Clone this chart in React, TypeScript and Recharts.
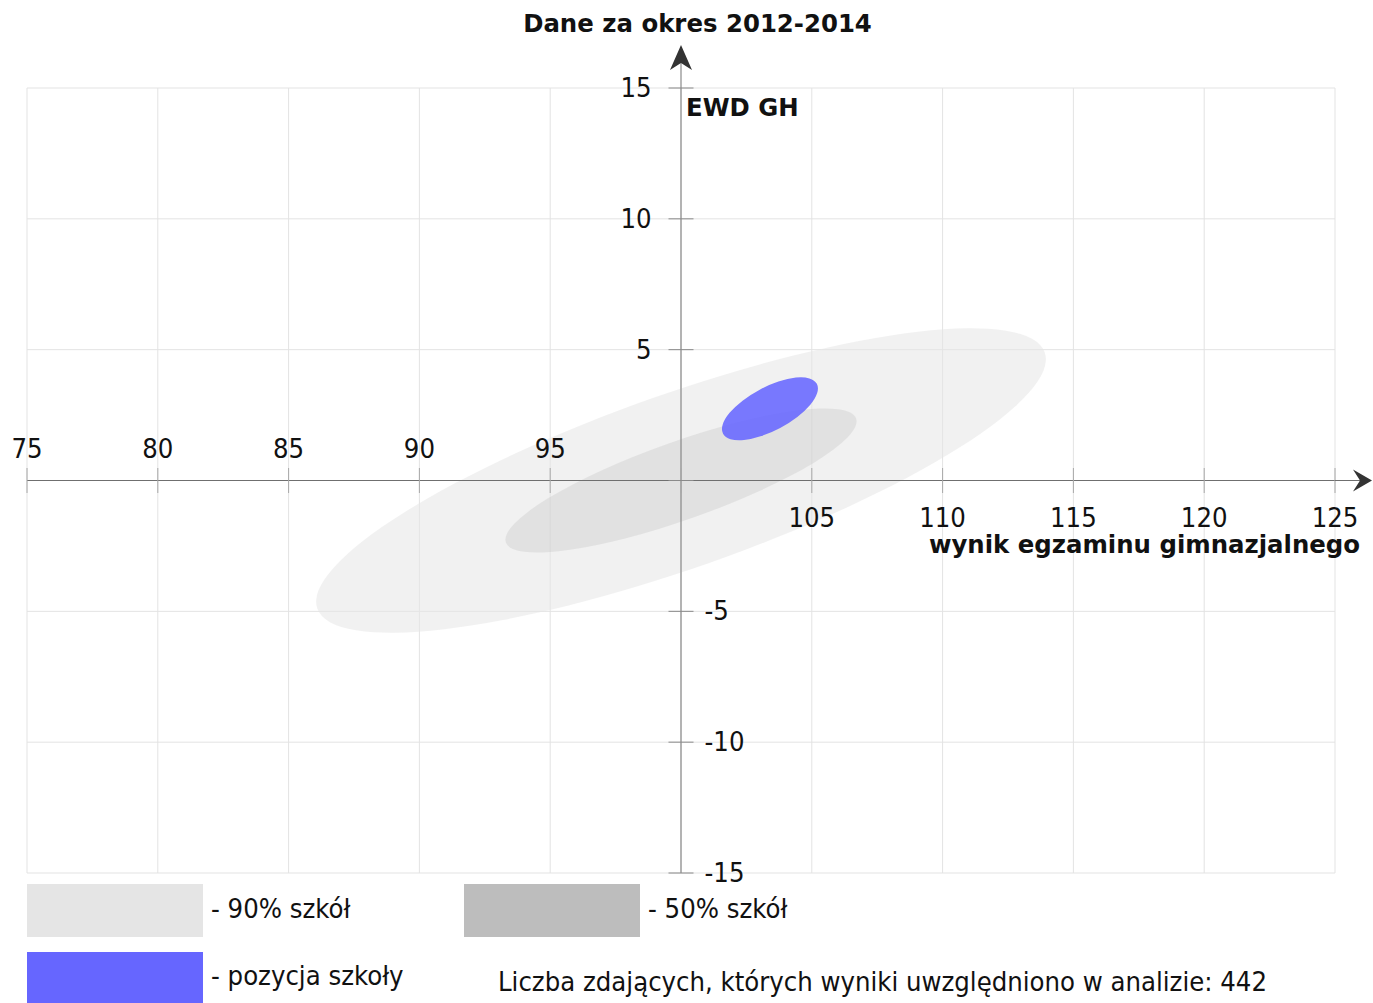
import React from 'react';
import {
  ComposedChart,
  XAxis,
  YAxis,
  CartesianGrid,
  ReferenceArea,
  ReferenceDot,
  ReferenceLine,
} from 'recharts';

// ---- data ----
const xDomain: [number, number] = [75, 125];
const yDomain: [number, number] = [-15, 15];
const xTicks = [75, 80, 85, 90, 95, 100, 105, 110, 115, 120, 125];
const yTicks = [-15, -10, -5, 0, 5, 10, 15];
const xTickLabels = ['75', '80', '85', '90', '95', '', '105', '110', '115', '120', '125'];
const yTickLabels = ['-15', '-10', '-5', '', '5', '10', '15'];

const ellipseNames = ['90% szkół', '50% szkół', 'pozycja szkoły'];
const ellipseCenterX = [100, 100, 103.4];
const ellipseCenterY = [0, 0, 2.74];
const ellipseSemiMajor = [14.74, 7.1, 2.03];
const ellipseSemiMinor = [3.33, 1.49, 0.83];
const ellipseAngleDeg = [19.4, 19.5, 28];

const title = 'Dane za okres 2012-2014';
const yAxisTitle = 'EWD GH';
const xAxisTitle = 'wynik egzaminu gimnazjalnego';
const countNote = 'Liczba zdających, których wyniki uwzględniono w analizie: 442';

// ---- styles ----
const W = 1373;
const H = 1003;
const ellipseFill = ['#e5e5e5', '#bdbdbd', '#6666ff'];
const ellipseOpacity = [0.55, 0.31, 0.88];
const REG = "'DejaVu Sans Condensed', 'DejaVu Sans', sans-serif";
const BOLD = "'DejaVu Sans', sans-serif";
const REG_SIZE = 27.2;
const BOLD_SIZE = 24.4;

const ellipses = ellipseNames.map((name, i) => ({
  name,
  cx: ellipseCenterX[i],
  cy: ellipseCenterY[i],
  a: ellipseSemiMajor[i],
  b: ellipseSemiMinor[i],
  angle: ellipseAngleDeg[i],
  fill: ellipseFill[i],
  opacity: ellipseOpacity[i],
}));

const makeEllipseShape = (angle: number, fill: string, opacity: number) => (p: any) => {
  const x = Number(p.x);
  const y = Number(p.y);
  const w = Math.abs(Number(p.width));
  const h = Math.abs(Number(p.height));
  const cx = x + w / 2;
  const cy = y + h / 2;
  return (
    <ellipse
      cx={cx}
      cy={cy}
      rx={w / 2}
      ry={h / 2}
      fill={fill}
      fillOpacity={opacity}
      stroke="none"
      transform={`rotate(${-angle} ${cx} ${cy})`}
    />
  );
};

const makeXTickShape = (label: string, value: number) => (p: any) => {
  const cx = p.cx;
  const cy = p.cy;
  const below = value > 100;
  return (
    <g>
      <line x1={cx} x2={cx} y1={cy - 12.5} y2={cy + 12.5} stroke="#a8a8a8" strokeWidth={1} />
      {label ? (
        <text
          x={cx}
          y={below ? cy + 46 : cy - 23}
          textAnchor="middle"
          fontFamily={REG}
          fontSize={REG_SIZE}
          fill="#111"
        >
          {label}
        </text>
      ) : null}
    </g>
  );
};

const makeYTickShape = (label: string, value: number) => (p: any) => {
  const cx = p.cx;
  const cy = p.cy;
  const right = value < 0;
  return (
    <g>
      <line x1={cx - 12.5} x2={cx + 12.5} y1={cy} y2={cy} stroke="#8a8a8a" strokeWidth={1} />
      {label ? (
        <text
          x={right ? cx + 23.5 : cx - 29.5}
          y={cy + 9}
          textAnchor={right ? 'start' : 'end'}
          fontFamily={REG}
          fontSize={REG_SIZE}
          fill="#111"
        >
          {label}
        </text>
      ) : null}
    </g>
  );
};

const topArrowShape = (p: any) => {
  const cx = p.cx;
  const cy = p.cy;
  return (
    <g>
      <line x1={cx} x2={cx} y1={cy} y2={cy - 25} stroke="#8a8a8a" strokeWidth={1.2} />
      <path
        d={`M ${cx} ${cy - 43} L ${cx + 11} ${cy - 18} L ${cx} ${cy - 25} L ${cx - 11} ${cy - 18} Z`}
        fill="#333"
      />
      <text x={cx + 5} y={cy + 28} fontFamily={BOLD} fontWeight="bold" fontSize={BOLD_SIZE} fill="#111">
        {yAxisTitle}
      </text>
    </g>
  );
};

const rightArrowShape = (p: any) => {
  const cx = p.cx;
  const cy = p.cy;
  return (
    <g>
      <line x1={cx} x2={cx + 25} y1={cy} y2={cy} stroke="#6f6f6f" strokeWidth={1} />
      <path
        d={`M ${cx + 37} ${cy} L ${cx + 18} ${cy + 11} L ${cx + 25} ${cy} L ${cx + 18} ${cy - 11} Z`}
        fill="#333"
      />
      <text
        x={cx + 25}
        y={cy + 72}
        textAnchor="end"
        fontFamily={BOLD}
        fontWeight="bold"
        fontSize={BOLD_SIZE}
        fill="#111"
      >
        {xAxisTitle}
      </text>
    </g>
  );
};

export default function App() {
  return (
    <div style={{ position: 'absolute', left: 0, top: 0, width: W, height: H, overflow: 'hidden', background: '#fff' }}>
      <ComposedChart
        width={W}
        height={H}
        data={[]}
        margin={{ top: 88, right: 38, bottom: 130, left: 27 }}
      >
        <CartesianGrid stroke="#e3e3e3" strokeWidth={1} />
        <XAxis type="number" dataKey="x" domain={xDomain} ticks={xTicks} hide allowDataOverflow />
        <YAxis type="number" dataKey="y" domain={yDomain} ticks={yTicks} hide allowDataOverflow />
        {ellipses.map((e) => (
          <ReferenceArea
            key={e.name}
            x1={e.cx - e.a}
            x2={e.cx + e.a}
            y1={e.cy - e.b}
            y2={e.cy + e.b}
            ifOverflow="visible"
            shape={makeEllipseShape(e.angle, e.fill, e.opacity)}
          />
        ))}
        <ReferenceLine y={0} stroke="#6f6f6f" strokeWidth={1} ifOverflow="visible" />
        <ReferenceLine x={100} stroke="#8a8a8a" strokeWidth={1.2} ifOverflow="visible" />
        {xTicks.map((t, i) => (
          <ReferenceDot
            key={'xt' + t}
            x={t}
            y={0}
            r={1}
            ifOverflow="visible"
            shape={makeXTickShape(xTickLabels[i], t)}
          />
        ))}
        {yTicks.map((t, i) => (
          <ReferenceDot
            key={'yt' + t}
            x={100}
            y={t}
            r={1}
            ifOverflow="visible"
            shape={makeYTickShape(yTickLabels[i], t)}
          />
        ))}
        <ReferenceDot x={100} y={yDomain[1]} r={1} ifOverflow="visible" shape={topArrowShape} />
        <ReferenceDot x={xDomain[1]} y={0} r={1} ifOverflow="visible" shape={rightArrowShape} />
      </ComposedChart>
      <svg
        width={W}
        height={H}
        style={{ position: 'absolute', left: 0, top: 0, pointerEvents: 'none' }}
      >
        <text x={697.5} y={32} textAnchor="middle" fontFamily={BOLD} fontWeight="bold" fontSize={BOLD_SIZE} fill="#111">
          {title}
        </text>
        <rect x={27} y={884} width={176} height={53} fill={ellipseFill[0]} />
        <text x={211} y={918} fontFamily={REG} fontSize={REG_SIZE} fill="#111">{'- ' + ellipseNames[0]}</text>
        <rect x={464} y={884} width={176} height={53} fill={ellipseFill[1]} />
        <text x={648} y={918} fontFamily={REG} fontSize={REG_SIZE} fill="#111">{'- ' + ellipseNames[1]}</text>
        <rect x={27} y={952} width={176} height={60} fill={ellipseFill[2]} />
        <text x={211} y={985} fontFamily={REG} fontSize={REG_SIZE} fill="#111">{'- ' + ellipseNames[2]}</text>
        <text x={498} y={991} fontFamily={REG} fontSize={REG_SIZE} fill="#111">{countNote}</text>
      </svg>
    </div>
  );
}
